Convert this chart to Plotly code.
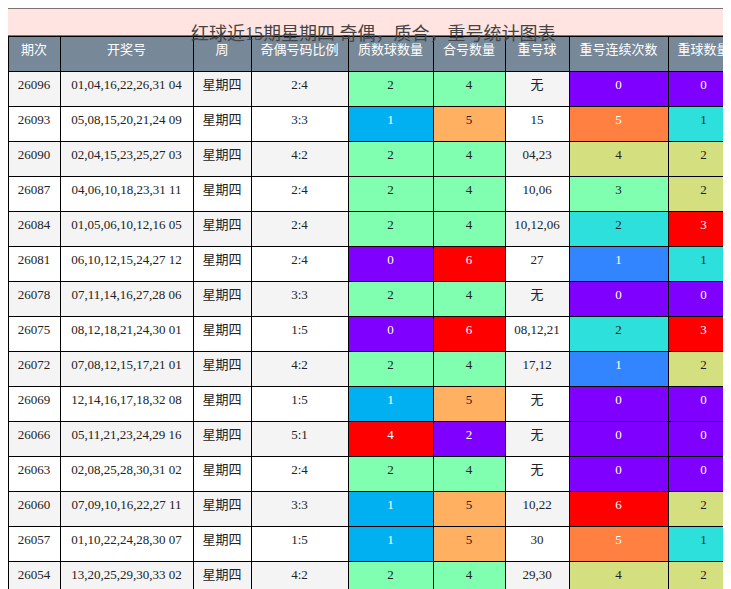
import plotly.graph_objects as go

headers = ["期次", "开奖号", "周", "奇偶号码比例", "质数球数量", "合号数量", "重号球", "重号连续次数", "重球数量"]
periods = ["26096", "26093", "26090", "26087", "26084", "26081", "26078", "26075", "26072", "26069", "26066", "26063", "26060", "26057", "26054"]
draws = ["01,04,16,22,26,31 04", "05,08,15,20,21,24 09", "02,04,15,23,25,27 03", "04,06,10,18,23,31 11",
         "01,05,06,10,12,16 05", "06,10,12,15,24,27 12", "07,11,14,16,27,28 06", "08,12,18,21,24,30 01",
         "07,08,12,15,17,21 01", "12,14,16,17,18,32 08", "05,11,21,23,24,29 16", "02,08,25,28,30,31 02",
         "07,09,10,16,22,27 11", "01,10,22,24,28,30 07", "13,20,25,29,30,33 02"]
weekday = ["星期四"] * 15
odd_even = ["2:4", "3:3", "4:2", "2:4", "2:4", "2:4", "3:3", "1:5", "4:2", "1:5", "5:1", "2:4", "3:3", "1:5", "4:2"]
primes = [2, 1, 2, 2, 2, 0, 2, 0, 2, 1, 4, 2, 1, 1, 2]
composites = [4, 5, 4, 4, 4, 6, 4, 6, 4, 5, 2, 4, 5, 5, 4]
repeat_balls = ["无", "15", "04,23", "10,06", "10,12,06", "27", "无", "08,12,21", "17,12", "无", "无", "无", "10,22", "30", "29,30"]
repeat_runs = [0, 5, 4, 3, 2, 1, 0, 2, 1, 0, 0, 0, 6, 5, 4]
repeat_count = [0, 1, 2, 2, 3, 1, 0, 3, 2, 0, 0, 0, 2, 1, 2]

prime_col = {0: "#8000FF", 1: "#00B0F0", 2: "#80FFB0", 4: "#FF0000"}
comp_col = {2: "#8000FF", 4: "#80FFB0", 5: "#FFB060", 6: "#FF0000"}
run_col = {0: "#8000FF", 1: "#3385FF", 2: "#2EE0DC", 3: "#80FFB0", 4: "#D4E080", 5: "#FF8040", 6: "#FF0000"}
cnt_col = {0: "#8000FF", 1: "#2EE0DC", 2: "#D4E080", 3: "#FF0000"}
dark_bg = {"#8000FF", "#00B0F0", "#FF0000", "#3385FF", "#FF8040"}

stripe = ["#F4F4F4" if i % 2 == 0 else "#FFFFFF" for i in range(15)]
fills = [stripe] * 4 + [[prime_col[v] for v in primes], [comp_col[v] for v in composites], stripe,
                        [run_col[v] for v in repeat_runs], [cnt_col[v] for v in repeat_count]]
fonts = [["white" if c in dark_bg else "#222" for c in col] for col in fills]
draws_nb = [d.replace(" ", "\u00a0") for d in draws]

fig = go.Figure(go.Table(
    domain=dict(x=[0, 1], y=[0, 1]),
    columnwidth=[52, 133, 58, 97, 85, 72, 64, 99, 71],
    header=dict(values=headers, fill_color="#778899", height=35, align="center",
                line=dict(color="black", width=1),
                font=dict(color="white", size=13, family="Noto Sans CJK SC")),
    cells=dict(values=[periods, draws_nb, weekday, odd_even, primes, composites, repeat_balls, repeat_runs, repeat_count],
               fill_color=fills, height=35, align="center",
               line=dict(color="black", width=1),
               font=dict(color=fonts, size=13, family="Liberation Serif, Noto Sans CJK SC")),
))
fig.add_shape(type="rect", xref="paper", yref="paper", x0=-0.02, x1=1.02, y0=1, y1=1 + 28 / 561,
              fillcolor="#FFE4E1", line=dict(color="black", width=1))
fig.add_annotation(text="红球近15期星期四 奇偶，质合，重号统计图表", xref="paper", yref="paper", x=0.5, y=1 + 14 / 561,
                   showarrow=False, font=dict(size=18, color="#444", family="Liberation Serif, Noto Sans CJK SC"))
fig.update_layout(width=731, height=589, margin=dict(l=0, r=0, t=28, b=0, pad=0), paper_bgcolor="white")
fig.write_html("out.html")
